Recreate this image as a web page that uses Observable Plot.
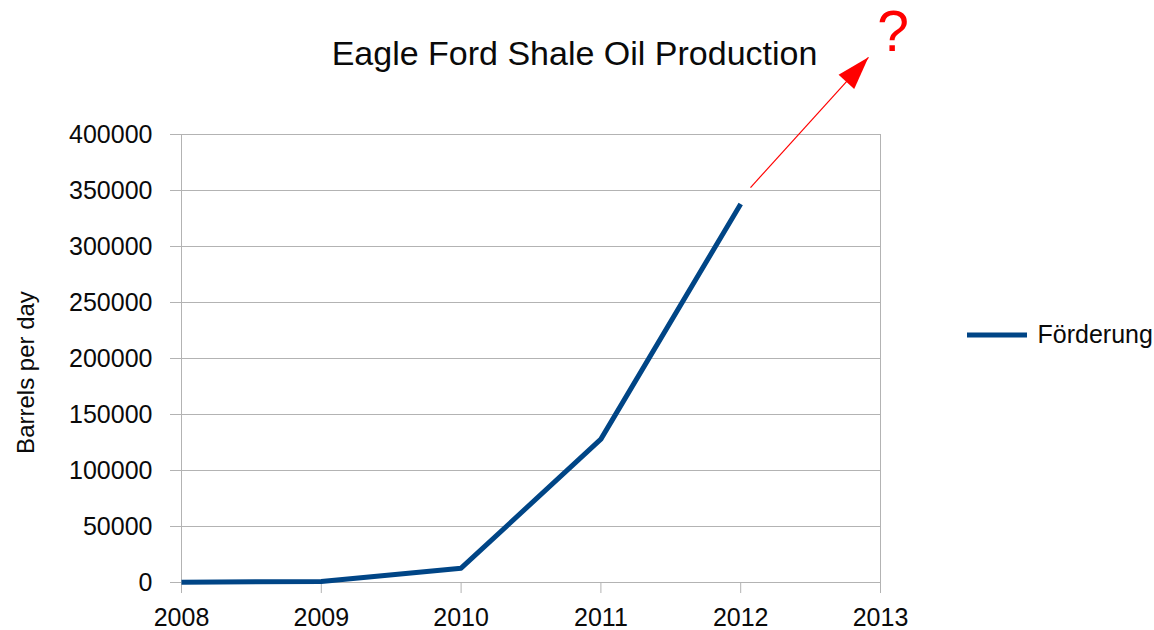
<!DOCTYPE html>
<html>
<head>
<meta charset="utf-8">
<script src="https://cdn.jsdelivr.net/npm/d3@7"></script>
<script src="https://cdn.jsdelivr.net/npm/@observablehq/plot@0.6"></script>
<style>
  html, body { margin: 0; padding: 0; background: #fff; }
  #chart { width: 1154px; height: 630px; }
</style>
</head>
<body>
<div id="chart"></div>
<script>
// Eagle Ford shale oil production, barrels per day
const years = [2008, 2009, 2010, 2011, 2012];
const production = [300, 800, 12800, 128000, 338000];
const seriesName = "Förderung";

const yearTicks = [2008, 2009, 2010, 2011, 2012, 2013];
const valueTicks = [0, 50000, 100000, 150000, 200000, 250000, 300000, 350000, 400000];

const titleText = "Eagle Ford Shale Oil Production";
const yLabel = "Barrels per day";

// "what comes next?" annotation: arrow from the last point upward, plus a question mark
const arrowFrom = {x: 2012.07, y: 352600};
const arrowTo = {x: 2012.914, y: 468900};
const questionAt = {x: 2013.09, y: 474300};

const rows = years.map((year, i) => ({year, value: production[i], series: seriesName}));

const lineColor = "#004586";
const gridColor = "#b3b3b3";
const textColor = "#0a0a0a";
const accent = "#ff0000";

// filled triangular arrowhead for Plot.vector
const headShape = {
  draw(context, l) {
    context.moveTo(0, -l);
    context.lineTo(-10.5, 0);
    context.lineTo(10.5, 0);
    context.closePath();
  }
};

const plot = Plot.plot({
  width: 1154,
  height: 630,
  marginLeft: 181,
  marginRight: 274,
  marginTop: 134,
  marginBottom: 48,
  x: {domain: [2008, 2013]},
  y: {domain: [0, 400000]},
  style: {fontFamily: "'Liberation Sans', Arial, sans-serif", fontSize: "25px", color: textColor, background: "#fff"},
  marks: [
    Plot.ruleY(valueTicks, {stroke: gridColor, strokeWidth: 1, insetLeft: -11}),
    Plot.ruleX([2008, 2013], {stroke: gridColor, strokeWidth: 1, insetBottom: -11}),
    Plot.axisY({ticks: valueTicks, tickSize: 0, tickPadding: 29, tickFormat: d => String(d), label: null, fill: textColor, fontSize: 25}),
    Plot.axisX({ticks: yearTicks, tickSize: 11, tickPadding: 15, tickFormat: d => String(d), label: null, stroke: gridColor, fill: textColor, fontSize: 25}),
    Plot.line(rows, {x: "year", y: "value", stroke: lineColor, strokeWidth: 5, strokeLinecap: "butt", strokeLinejoin: "round"}),
    Plot.link([0], {x1: () => arrowFrom.x, y1: () => arrowFrom.y, x2: () => arrowTo.x, y2: () => arrowTo.y, stroke: accent, strokeWidth: 1.2}),
    Plot.vector([0], {x: () => arrowTo.x, y: () => arrowTo.y, anchor: "end", length: 33, rotate: 42, shape: headShape, fill: accent, stroke: "none"}),
    Plot.text(["?"], {x: () => questionAt.x, y: () => questionAt.y, text: d => d, fontSize: 57, fill: accent, lineAnchor: "bottom", textAnchor: "middle"}),
    Plot.text([titleText], {frameAnchor: "top", text: d => d, dx: 43.5, dy: -70, lineAnchor: "bottom", fontSize: 34, fill: textColor}),
    Plot.text([yLabel], {frameAnchor: "left", text: d => d, rotate: -90, dx: -148, dy: 14, lineAnchor: "bottom", textAnchor: "middle", fontSize: 24, fill: textColor}),
    Plot.text([seriesName], {frameAnchor: "right", text: d => d, dx: 157, dy: -16, lineAnchor: "bottom", textAnchor: "start", fontSize: 25, fill: textColor})
  ]
});

// legend swatch beside the series name
d3.select(plot).append("line")
  .attr("x1", 967).attr("x2", 1027)
  .attr("y1", 335).attr("y2", 335)
  .attr("stroke", lineColor)
  .attr("stroke-width", 5);

document.getElementById("chart").appendChild(plot);
</script>
</body>
</html>
